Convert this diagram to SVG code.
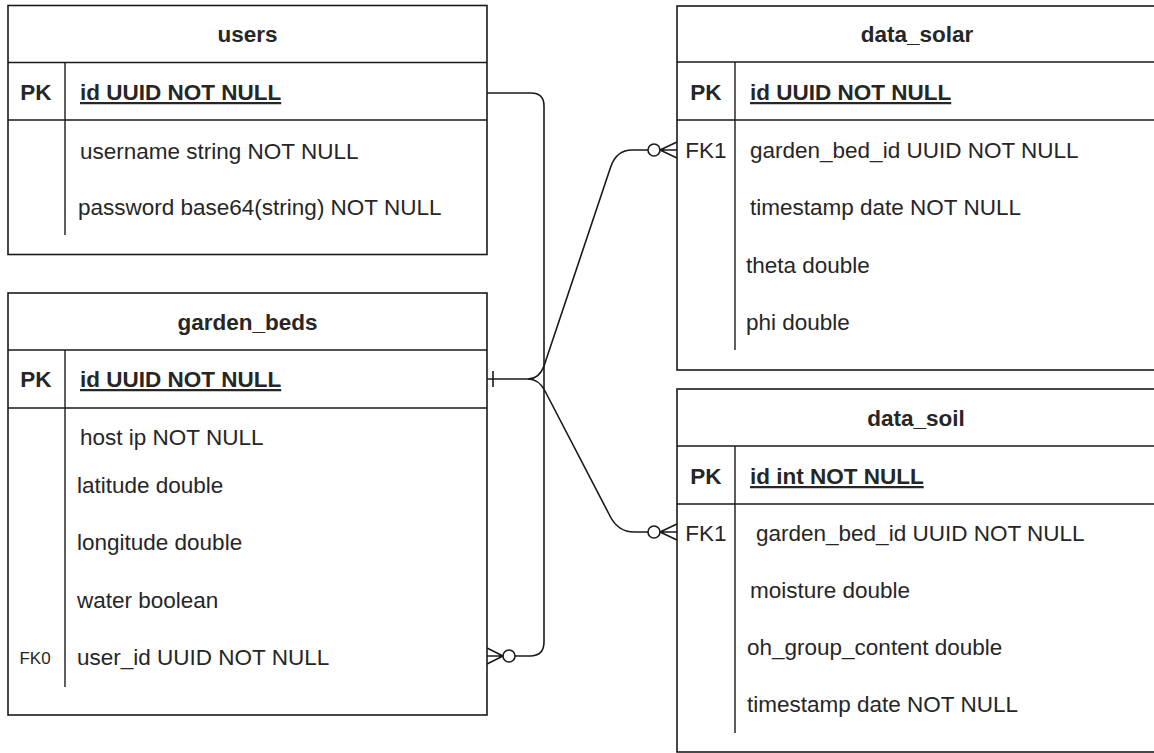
<svg xmlns="http://www.w3.org/2000/svg" width="1154" height="753" viewBox="0 0 1154 753">
<style>
.box{fill:#fff;stroke:#1a1a1a;stroke-width:1.6}
.ln{stroke:#1a1a1a;stroke-width:1.6;fill:none}
.dv{stroke:#1a1a1a;stroke-width:1.4;fill:none}
text{font-family:"Liberation Sans",Arial,Helvetica,sans-serif;font-size:22.5px;fill:#262626}
.h{font-weight:bold;text-anchor:middle}
.pk{font-weight:bold;text-anchor:middle}
.id{font-weight:bold;text-decoration:underline}
.fk{text-anchor:middle}
.fk0{font-size:17px;text-anchor:middle}
.c{fill:#fff;stroke:#1a1a1a;stroke-width:1.6}
</style>
<rect x="0" y="0" width="1154" height="753" fill="#fff"/>

<g id="connectors">
  <!-- users.id to garden_beds.user_id -->
  <path class="ln" d="M487,93 L531,93 Q544,93 544,106 L544,642 Q544,656 530,656 L515,656"/>
  <circle class="c" cx="509" cy="656" r="6"/>
  <path class="ln" d="M503,656 L487,648 M503,656 L487,656 M503,656 L487,664"/>
  <!-- garden_beds.id to data_solar / data_soil -->
  <path class="ln" d="M487,379 L528,379"/>
  <path class="ln" d="M493,371 L493,387"/>
  <path class="ln" d="M528,379 Q539,379 544,366 L611,166 Q617,150 632,150 L648,150"/>
  <circle class="c" cx="654" cy="150" r="6"/>
  <path class="ln" d="M660,150 L677,142 M660,150 L677,150 M660,150 L677,158"/>
  <path class="ln" d="M528,379 Q539,379 545,391 L610,516 Q618,532 634,532 L648,532"/>
  <circle class="c" cx="654" cy="532" r="6"/>
  <path class="ln" d="M660,532 L677,524 M660,532 L677,532 M660,532 L677,540"/>
</g>

<g id="users">
  <rect class="box" x="8" y="5.5" width="479" height="249"/>
  <path class="ln" d="M8,62.5 H487 M8,120 H487"/>
  <path class="dv" d="M65,62.5 V235"/>
  <text class="h" x="247.5" y="42">users</text>
  <text class="pk" x="36" y="100">PK</text>
  <text class="id" x="80" y="100">id UUID NOT NULL</text>
  <text x="80" y="159">username string NOT NULL</text>
  <text x="78" y="215">password base64(string) NOT NULL</text>
</g>

<g id="garden_beds">
  <rect class="box" x="8" y="293" width="479" height="422"/>
  <path class="ln" d="M8,350 H487 M8,408 H487"/>
  <path class="dv" d="M65,350 V687"/>
  <text class="h" x="247.5" y="330">garden_beds</text>
  <text class="pk" x="36" y="387">PK</text>
  <text class="id" x="80" y="387">id UUID NOT NULL</text>
  <text x="80" y="445">host ip NOT NULL</text>
  <text x="77" y="493">latitude double</text>
  <text x="77" y="550">longitude double</text>
  <text x="77" y="608">water boolean</text>
  <text class="fk0" x="35" y="664">FK0</text>
  <text x="77" y="665">user_id UUID NOT NULL</text>
</g>

<g id="data_solar">
  <rect class="box" x="677" y="6" width="480" height="364"/>
  <path class="ln" d="M677,62 H1157 M677,120 H1157"/>
  <path class="dv" d="M735,62 V350"/>
  <text class="h" x="917" y="42">data_solar</text>
  <text class="pk" x="706" y="100">PK</text>
  <text class="id" x="750" y="100">id UUID NOT NULL</text>
  <text class="fk" x="706" y="158">FK1</text>
  <text x="750" y="158">garden_bed_id UUID NOT NULL</text>
  <text x="750" y="215">timestamp date NOT NULL</text>
  <text x="746" y="273">theta double</text>
  <text x="746" y="330">phi double</text>
</g>

<g id="data_soil">
  <rect class="box" x="677" y="389" width="480" height="363"/>
  <path class="ln" d="M677,446 H1157 M677,504 H1157"/>
  <path class="dv" d="M735,504 V733 M735,446 V504"/>
  <text class="h" x="916" y="426">data_soil</text>
  <text class="pk" x="706" y="484">PK</text>
  <text class="id" x="750" y="484">id int NOT NULL</text>
  <text class="fk" x="706" y="541">FK1</text>
  <text x="756" y="541">garden_bed_id UUID NOT NULL</text>
  <text x="750" y="598">moisture double</text>
  <text x="747" y="655">oh_group_content double</text>
  <text x="747" y="712">timestamp date NOT NULL</text>
</g>
</svg>
